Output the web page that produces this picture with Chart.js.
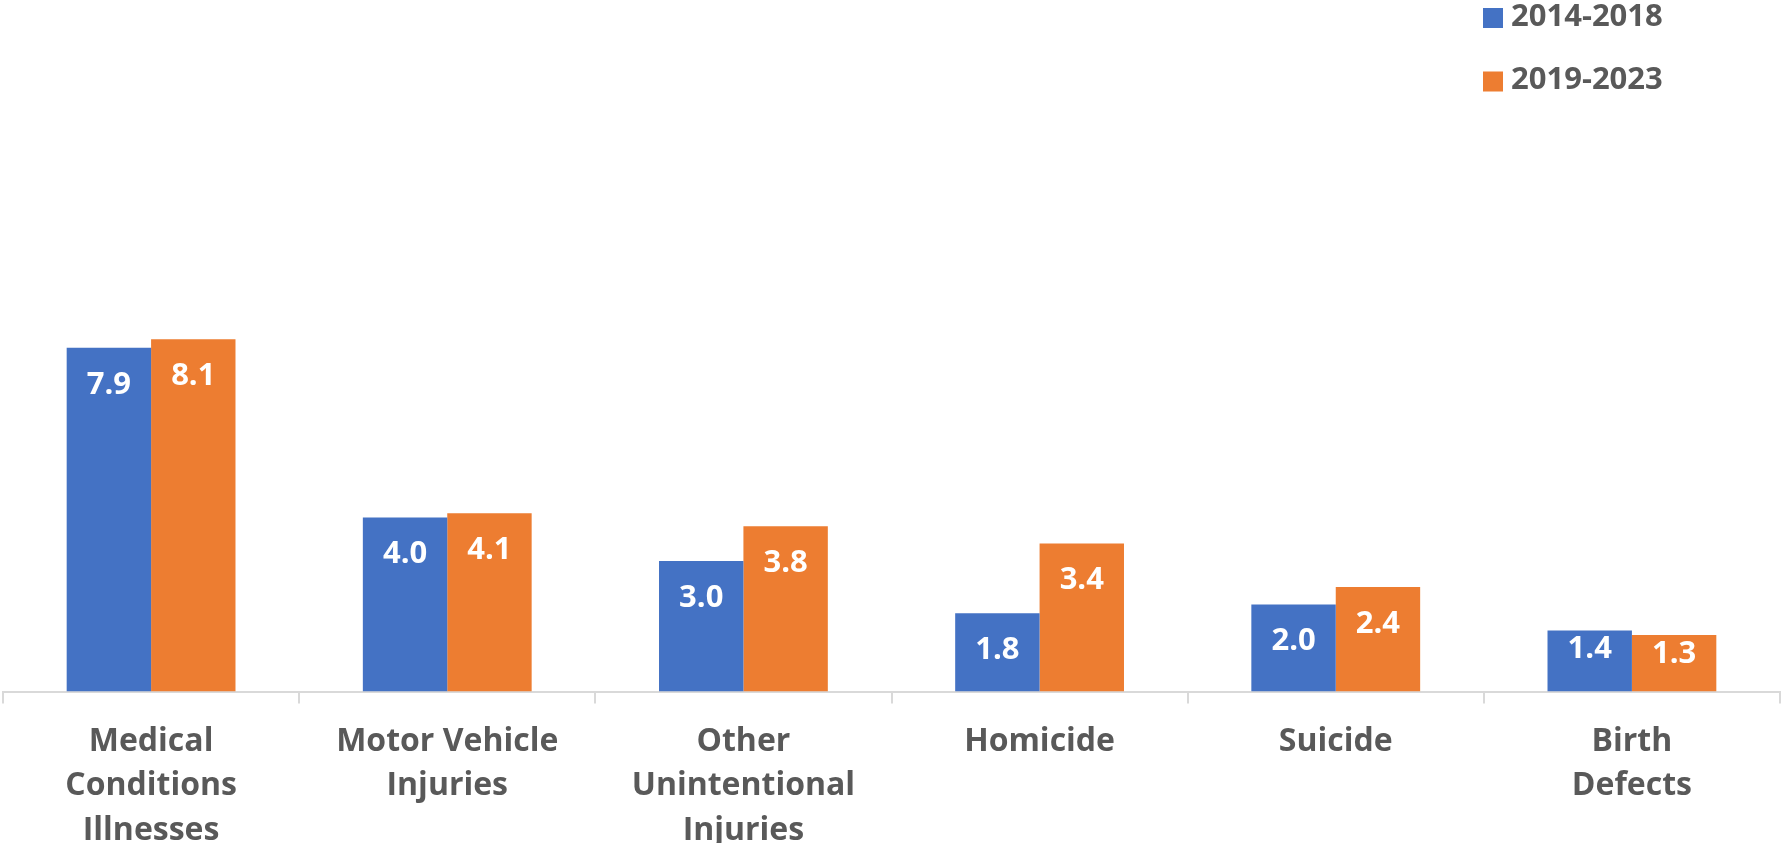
<!DOCTYPE html>
<html>
<head>
    <title>Deaths by cause</title>
    <script src="https://cdn.jsdelivr.net/npm/chart.js"></script>
    <style>
        body {
            margin: 0;
            background: #ffffff;
        }
        canvas {
            display: block;
        }
    </style>
</head>
<body>
    <canvas id="causeChart" width="1781" height="843"></canvas>

    <script>
        const categories = [
            ['Medical', 'Conditions', 'Illnesses'],
            ['Motor Vehicle', 'Injuries'],
            ['Other', 'Unintentional', 'Injuries'],
            'Homicide',
            'Suicide',
            ['Birth', 'Defects']
        ];
        const seriesLabels = ['2014-2018', '2019-2023'];
        const values2014 = [7.9, 4.0, 3.0, 1.8, 2.0, 1.4];
        const values2019 = [8.1, 4.1, 3.8, 3.4, 2.4, 1.3];

        const BLUE = '#4472C4';
        const ORANGE = '#ED7D31';
        const GREY = '#595959';
        const FONT = '"Open Sans", "Noto Sans", sans-serif';

        // 막대 안쪽 위에 값 표시
        const valueLabels = {
            id: 'valueLabels',
            afterDatasetsDraw(chart) {
                const ctx = chart.ctx;
                const base = chart.scales.y.getPixelForValue(0);
                ctx.save();
                ctx.fillStyle = '#ffffff';
                ctx.font = 'bold 31px ' + FONT;
                ctx.textAlign = 'center';
                ctx.textBaseline = 'middle';
                chart.data.datasets.forEach((ds, i) => {
                    chart.getDatasetMeta(i).data.forEach((bar, j) => {
                        const h = base - bar.y;
                        const cy = h > 70 ? bar.y + 37 : bar.y + 19;
                        ctx.fillText(ds.data[j].toFixed(1), bar.x, cy);
                    });
                });
                ctx.restore();
            }
        };

        // 오른쪽 위 범례 (세로)
        const stackedLegend = {
            id: 'stackedLegend',
            afterDraw(chart) {
                const ctx = chart.ctx;
                ctx.save();
                ctx.font = 'bold 31px ' + FONT;
                ctx.textBaseline = 'middle';
                ctx.textAlign = 'left';
                chart.data.datasets.forEach((ds, i) => {
                    const cy = 18 + i * 63.5;
                    ctx.fillStyle = ds.backgroundColor;
                    ctx.fillRect(1483, cy - 10, 20, 20);
                    ctx.fillStyle = GREY;
                    ctx.fillText(ds.label, 1511, cy - 1);
                });
                ctx.restore();
            }
        };

        const ctx = document.getElementById('causeChart').getContext('2d');
        window.chart = new Chart(ctx, {
            type: 'bar',
            data: {
                labels: categories,
                datasets: [{
                    label: seriesLabels[0],
                    data: values2014,
                    backgroundColor: BLUE
                }, {
                    label: seriesLabels[1],
                    data: values2019,
                    backgroundColor: ORANGE
                }]
            },
            options: {
                responsive: false,
                animation: false,
                layout: {
                    padding: { top: 39, left: 3, right: 1, bottom: 0 }
                },
                plugins: {
                    legend: { display: false },
                    tooltip: { enabled: false }
                },
                datasets: {
                    bar: {
                        categoryPercentage: 0.57,
                        barPercentage: 1.0
                    }
                },
                scales: {
                    x: {
                        offset: true,
                        grid: {
                            offset: true,
                            drawOnChartArea: false,
                            color: '#D9D9D9',
                            lineWidth: 2,
                            tickLength: 12
                        },
                        border: {
                            color: '#D9D9D9',
                            width: 2
                        },
                        ticks: {
                            color: GREY,
                            padding: 16,
                            maxRotation: 0,
                            autoSkip: false,
                            font: {
                                family: FONT,
                                size: 32,
                                weight: 'bold',
                                lineHeight: 1.39
                            }
                        },
                        afterFit(scale) {
                            scale.height = 151.5;
                        }
                    },
                    y: {
                        display: false,
                        min: 0,
                        max: 15
                    }
                }
            },
            plugins: [valueLabels, stackedLegend]
        });
    </script>
</body>
</html>
